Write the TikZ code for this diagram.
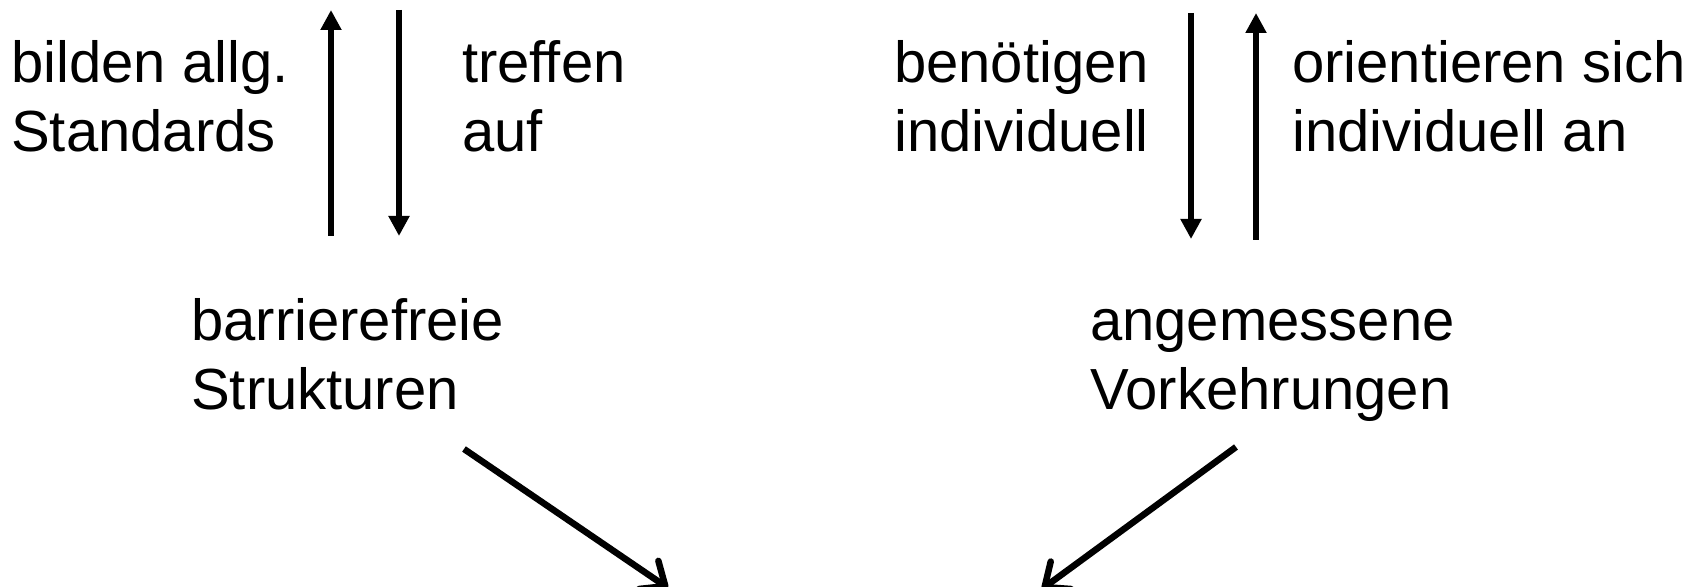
\documentclass[tikz,border=0pt]{standalone}
\usepackage{fontspec}
\setmainfont{Liberation Sans}
\usetikzlibrary{arrows.meta}
\begin{document}
\begin{tikzpicture}[x=1pt,y=1pt,
  lbl/.style={anchor=base west,inner sep=0pt,align=left,font=\fontsize{58}{69.5}\selectfont},
  vert/.style={line width=6pt,-{Triangle[width=20pt,length=20pt]}},
  diag/.style={line width=6.5pt,-{Straight Barb[width=34pt,length=20pt,line cap=round,line join=round]}}]
\clip (0,0) rectangle (1704,586);
\useasboundingbox (0,0) rectangle (1704,586);
% labels (anchored at the baseline of their last line)
\node[lbl] (bilden) at (11,434) {bilden allg.\\Standards};
\node[lbl] (treffen) at (462,434) {treffen\\auf};
\node[lbl] (benoetigen) at (894,434) {benötigen\\individuell};
\node[lbl] (orient) at (1292,434) {orientieren sich\\individuell an};
\node[lbl] (barr) at (191,176) {barrierefreie\\Strukturen};
\node[lbl] (angem) at (1090,176) {angemessene\\Vorkehrungen};
% arrow end points
\coordinate (a1s) at (331,350); \coordinate (a1e) at (331,576);
\coordinate (a2s) at (399,576); \coordinate (a2e) at (399,350);
\coordinate (b1s) at (1191,573); \coordinate (b1e) at (1191,347);
\coordinate (b2s) at (1256,346); \coordinate (b2e) at (1256,573);
\coordinate (d1s) at (464,137); \coordinate (d1e) at (668,-2);
\coordinate (d2s) at (1236,139); \coordinate (d2e) at (1042,-3);
\draw[vert] (a1s) -- (a1e);
\draw[vert] (a2s) -- (a2e);
\draw[vert] (b1s) -- (b1e);
\draw[vert] (b2s) -- (b2e);
\draw[diag] (d1s) -- (d1e);
\draw[diag] (d2s) -- (d2e);
\end{tikzpicture}
\end{document}
